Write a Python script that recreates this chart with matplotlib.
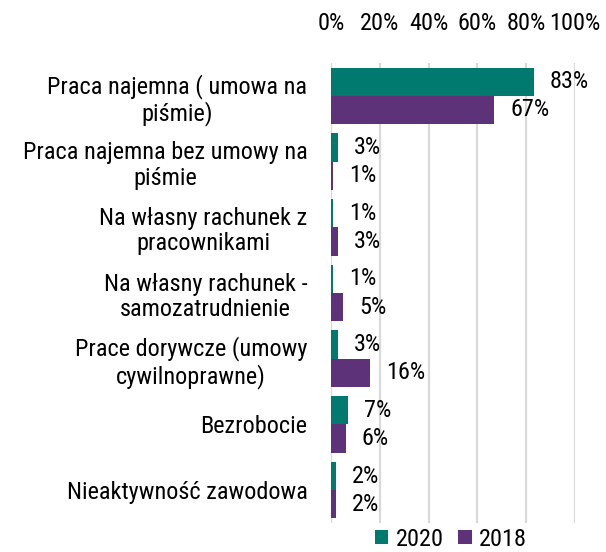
import matplotlib
matplotlib.use("Agg")
import matplotlib.pyplot as plt
import numpy as np
from matplotlib.ticker import FuncFormatter

categories = [
    "Praca najemna ( umowa na\npiśmie)",
    "Praca najemna bez umowy na\npiśmie",
    "Na własny rachunek z\npracownikami",
    "Na własny rachunek -\nsamozatrudnienie",
    "Prace dorywcze (umowy\ncywilnoprawne)",
    "Bezrobocie",
    "Nieaktywność zawodowa",
]
values_2020 = [83, 3, 1, 1, 3, 7, 2]
values_2018 = [67, 1, 3, 5, 16, 6, 2]
series_names = ["2020", "2018"]
xticks = [0, 20, 40, 60, 80, 100]

plt.rcParams['font.family'] = ['Roboto Condensed', 'Liberation Sans', 'DejaVu Sans']
FS = 17.5

fig = plt.figure(figsize=(6.06, 5.52), dpi=100)
ax = fig.add_axes([331/606, 1-523/552, 244/606, (523-63)/552])

teal = "#007A6E"
purple = "#5E3279"
y = np.arange(len(categories))
h = 0.43
b1 = ax.barh(y - h/2, values_2020, height=h, color=teal, label=series_names[0], zorder=3)
b2 = ax.barh(y + h/2, values_2018, height=h, color=purple, label=series_names[1], zorder=3)

for bars, vals in ((b1, values_2020), (b2, values_2018)):
    for rect, v in zip(bars, vals):
        ax.annotate(f"{v}%", (rect.get_width(), rect.get_y() + rect.get_height()/2),
                    xytext=(11.5, 0), textcoords="offset points", va="center", ha="left",
                    fontsize=FS, color="black")

ax.set_xlim(0, 100)
ax.set_ylim(len(categories) - 0.5, -0.5)
ax.set_xticks(xticks)
ax.xaxis.set_major_formatter(FuncFormatter(lambda v, p: f"{int(v)}%"))
ax.xaxis.tick_top()
ax.tick_params(axis='x', length=0, labelsize=FS, pad=20)
ax.set_yticks(y)
ax.set_yticklabels(categories, fontsize=FS, multialignment='center', linespacing=1.15)
ax.tick_params(axis='y', length=0, pad=17)
ax.grid(axis='x', color="#D9D9D9", linewidth=1.6, zorder=0)
ax.set_axisbelow(True)
for s in ax.spines.values():
    s.set_visible(False)

fig.legend(handles=[b1, b2], labels=series_names, loc="center", bbox_to_anchor=(451/606, 1-539/552),
           ncol=2, frameon=False, fontsize=FS, handlelength=0.55, handleheight=0.55,
           handletextpad=0.3, columnspacing=0.6, borderpad=0.0)

fig.savefig("out.png", dpi=100)
